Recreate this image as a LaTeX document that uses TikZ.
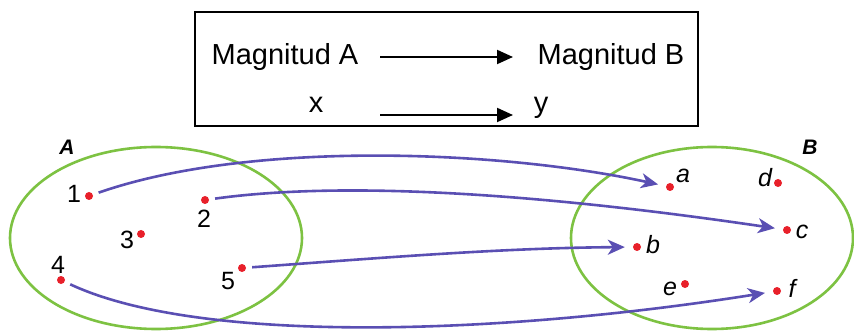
\documentclass[tikz,border=0pt]{standalone}
\usepackage{fontspec}
\setmainfont{Liberation Sans}
\usetikzlibrary{arrows.meta}
\definecolor{setgreen}{HTML}{7DC242}
\definecolor{mappurple}{HTML}{5A4FB3}
\definecolor{dotred}{HTML}{E8202A}
\begin{document}
\begin{tikzpicture}[x=1pt,y=-1pt,
  dot/.style={circle,fill=dotred,inner sep=0pt,minimum size=8pt},
  num/.style={anchor=base,inner sep=0pt,font=\fontsize{25}{27}\selectfont},
  let/.style={anchor=base,inner sep=0pt,font=\fontsize{25}{27}\selectfont\itshape},
  setlab/.style={anchor=base,inner sep=0pt,font=\fontsize{21}{23}\selectfont\bfseries\itshape},
  boxtxt/.style={anchor=base,inner sep=0pt,font=\fontsize{29}{31}\selectfont},
  setell/.style={draw=setgreen,line width=2.6pt},
  conn/.style={draw=mappurple,line width=2.6pt,-{Stealth[length=17pt,width=15pt,inset=5pt]},shorten <=6pt,shorten >=8pt},
  barrow/.style={draw=black,line width=2pt,-{Stealth[length=16pt,width=14pt,inset=0pt]}}
]
\useasboundingbox (0,0) rectangle (854,331);
% top box
\node[draw=black,line width=1.5pt,minimum width=503pt,minimum height=114pt,inner sep=0pt] (box) at (446.5,69) {};
\node[boxtxt] (ma) at (285,65) {Magnitud A};
\node[boxtxt] (mb) at (611,65) {Magnitud B};
\node[boxtxt] (tx) at (316,113) {x};
\node[boxtxt] (ty) at (541,113) {y};
\coordinate (a1s) at (380,57);
\coordinate (a1e) at (513,57);
\coordinate (a2s) at (380,115);
\coordinate (a2e) at (513,115);
\draw[barrow] (a1s) -- (a1e);
\draw[barrow] (a2s) -- (a2e);
% sets
\draw[setell] (156,238) ellipse [x radius=146pt, y radius=91pt];
\draw[setell] (712,238) ellipse [x radius=141pt, y radius=91pt];
\node[setlab] (lA) at (67,155) {A};
\node[setlab] (lB) at (810,155) {B};
% elements of A
\node[dot] (p1) at (89,196) {};
\node[dot] (p2) at (205,200) {};
\node[dot] (p3) at (141,234) {};
\node[dot] (p4) at (61,280) {};
\node[dot] (p5) at (242,268) {};
\node[num] (n1) at (74,203) {1};
\node[num] (n2) at (204,228) {2};
\node[num] (n3) at (127,248) {3};
\node[num] (n4) at (58,273) {4};
\node[num] (n5) at (228,289) {5};
% elements of B
\node[dot] (pa) at (670,187) {};
\node[dot] (pd) at (778,183) {};
\node[dot] (pc) at (787,230) {};
\node[dot] (pb) at (637,247) {};
\node[dot] (pe) at (685,284) {};
\node[dot] (pf) at (777,291) {};
\node[let] (la) at (683,183) {a};
\node[let] (ld) at (765,187) {d};
\node[let] (lc) at (802,238) {c};
\node[let] (lb) at (653,254) {b};
\node[let] (le) at (670,295) {e};
\node[let] (lf) at (792,297) {f};
% mappings
\draw[conn] (p1) .. controls (250,140) and (500,150) .. (pa);
\draw[conn] (p2) .. controls (350,180) and (550,195) .. (pc);
\draw[conn] (p5) .. controls (380,258) and (500,248) .. (pb);
\draw[conn] (p4) .. controls (200,345) and (500,335) .. (pf);
\end{tikzpicture}
\end{document}
